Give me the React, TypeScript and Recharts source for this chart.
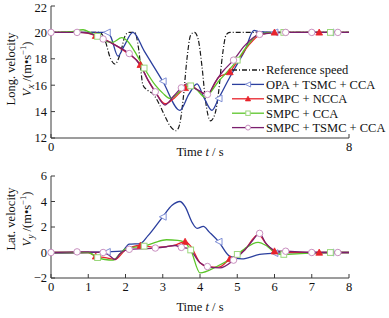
import React from 'react';
import { LineChart, Line, XAxis, YAxis } from 'recharts';

// ---- axis ticks ----
const topXTicks = [0, 8];
const bottomXTicks = [0, 1, 2, 3, 4, 5, 6, 7, 8];
const vxTicks = [12, 14, 16, 18, 20, 22];
const vyTicks = [-2, 0, 2, 4, 6];

// ---- longitudinal velocity Vx (m/s) ----
const refT = [0, 1.3, 1.45, 1.6, 1.72, 1.85, 2.0, 2.1, 2.25, 2.35, 2.47, 2.6, 2.75, 2.9, 3.05, 3.2, 3.36, 3.45, 3.55, 3.65, 3.75, 3.85, 3.95, 4.05, 4.15, 4.28, 4.4, 4.5, 4.6, 4.7, 4.8, 8];
const refVx = [20, 20, 19.4, 18.0, 17.6, 18.3, 19.8, 20, 20, 18.8, 16.0, 15.6, 15.3, 14.6, 13.7, 12.9, 12.55, 13.0, 15.0, 18.0, 19.8, 20, 19.5, 17.5, 14.8, 13.3, 13.8, 15.5, 18.2, 19.8, 20, 20];

const opaVxT = [0, 1.5, 1.6, 1.8, 1.95, 2.2, 2.5, 3.0, 3.46, 3.7, 3.92, 4.1, 4.32, 4.5, 4.8, 5.0, 5.2, 5.45, 5.6, 6.0, 7.5, 8];
const opaVx = [20, 20, 19.7, 18.2, 18.9, 20.0, 18.6, 16.3, 14.1, 15.3, 16.1, 15.1, 14.1, 15.0, 16.6, 17.6, 18.6, 20.15, 20.05, 20, 20, 20];

const nccaVxT = [0, 0.8, 1.2, 1.45, 1.75, 2.07, 2.4, 2.6, 2.8, 3.06, 3.3, 3.6, 3.75, 3.95, 4.2, 4.5, 4.8, 5.0, 5.3, 5.6, 6.0, 7.2, 8];
const nccaVx = [20, 20, 19.75, 19.45, 19.0, 18.4, 17.55, 16.4, 15.5, 14.6, 15.0, 15.8, 16.0, 15.6, 15.3, 16.6, 17.0, 17.8, 19.0, 19.8, 20, 20, 20];

const ccaVxT = [0, 0.5, 0.86, 1.05, 1.25, 1.5, 1.65, 1.9, 2.05, 2.3, 2.5, 2.8, 3.0, 3.2, 3.45, 3.65, 3.75, 3.9, 4.13, 4.5, 5.0, 5.3, 5.6, 6.25, 7.5, 8];
const ccaVx = [20, 20.05, 20.2, 20.0, 19.7, 19.3, 19.25, 19.6, 19.35, 18.3, 17.3, 16.0, 15.4, 15.0, 15.5, 16.0, 15.95, 15.7, 15.1, 16.3, 17.9, 19.1, 19.9, 20, 20, 20];

const tsmcVxT = [0, 0.7, 1.0, 1.2, 1.4, 1.75, 2.1, 2.4, 2.6, 2.8, 3.06, 3.3, 3.5, 3.64, 3.9, 4.2, 4.4, 4.6, 4.9, 5.2, 5.6, 6.3, 7.0, 7.7, 8];
const tsmcVx = [20, 20, 19.95, 19.75, 19.5, 19.0, 18.4, 17.5, 16.4, 15.5, 14.5, 15.2, 15.8, 16.1, 15.7, 15.3, 16.2, 17.0, 17.9, 19.0, 19.85, 20, 20, 20, 20];

// ---- lateral velocity Vy (m/s) ----
const opaVyT = [0, 1.0, 1.5, 1.9, 2.1, 2.4, 2.6, 3.0, 3.25, 3.46, 3.6, 3.8, 3.92, 4.09, 4.25, 4.5, 4.8, 5.12, 5.6, 6.0, 6.5, 7.5, 8];
const opaVy = [-0.05, 0, 0.05, 0.1, 0.65, 0.7, 1.3, 2.8, 3.7, 4.0, 3.6, 2.3, 1.9, 2.05, 1.6, 0.85, -0.3, -0.5, -0.15, -0.05, 0, 0, 0];

const nccaVyT = [0, 1.0, 1.2, 1.45, 1.72, 2.0, 2.4, 2.8, 3.3, 3.6, 3.75, 4.0, 4.2, 4.5, 4.8, 5.2, 5.56, 5.8, 6.0, 6.5, 7.2, 8];
const nccaVy = [0, 0, -0.3, -0.4, -0.55, 0.2, 0.55, 0.4, 0.55, 0.85, 0.5, -0.8, -1.1, -1.15, -0.5, 0.2, 1.4, 0.6, 0.1, 0, 0, 0];

const ccaVyT = [0, 1.0, 1.25, 1.45, 1.67, 1.85, 2.03, 2.5, 2.8, 3.1, 3.4, 3.55, 3.75, 4.0, 4.45, 5.0, 5.2, 5.56, 5.8, 6.06, 6.25, 6.6, 7.5, 8];
const ccaVy = [0, 0, -0.4, -0.55, -0.6, -0.1, 0.35, 0.5, 0.8, 1.0, 0.95, 0.85, 0.2, -1.6, -1.1, -0.15, 0.3, 0.8, 0.5, -0.1, -0.15, -0.1, 0, 0];

const tsmcVyT = [0, 0.7, 1.0, 1.4, 1.55, 1.72, 1.85, 2.1, 2.5, 2.8, 3.1, 3.33, 3.5, 3.7, 4.0, 4.2, 4.54, 4.9, 5.2, 5.4, 5.6, 5.75, 5.88, 6.06, 6.3, 7.0, 7.7, 8];
const tsmcVy = [0, 0.05, 0.05, 0, -0.2, -0.55, -0.1, 0.25, 0.3, 0.35, 0.45, 0.55, 0.4, 0.3, -0.8, -1.1, -1.2, -0.6, 0.2, 0.9, 1.5, 0.8, 0.4, 0.1, 0.1, 0, 0, 0];

// ---- where each series shows its marker (s) ----
const opaMarks = [1.5, 3.0, 4.5, 6.0, 7.5];
const nccaMarks = [1.2, 2.4, 3.6, 4.8, 6.0, 7.2];
const ccaMarks = [1.25, 2.5, 3.75, 5.0, 6.25, 7.5];
const tsmcMarks = [0, 0.7, 1.4, 2.1, 2.8, 3.5, 4.2, 4.9, 5.6, 6.3, 7.0, 7.7];

const FONT = '"Liberation Serif", "Times New Roman", serif';
const FS = 12.5;
const AXIS = '#3a3a3a';

const C = {
  ref: '#1a1a1a',
  opa: '#2b3f9e',
  ncca: '#e8232b',
  cca: '#5cc62a',
  tsmc: '#7b1f6e',
};

type Shape = 'tri-left' | 'tri-up' | 'square' | 'circle';

const toPts = (t: number[], v: number[]) => t.map((x, i) => ({ t: x, v: v[i] }));

const Marker = ({ shape, x, y, small }: { shape: Shape; x: number; y: number; small?: boolean }) => {
  const s = small ? 2.6 : 3.4;
  if (shape === 'tri-left')
    return <polygon points={`${x - s},${y} ${x + s},${y - s} ${x + s},${y + s}`} fill="#fff" stroke="#8090d6" strokeWidth={1} />;
  if (shape === 'tri-up')
    return <polygon points={`${x},${y - s} ${x + s},${y + s * 0.8} ${x - s},${y + s * 0.8}`} fill={C.ncca} stroke={C.ncca} strokeWidth={0.8} />;
  if (shape === 'square')
    return <rect x={x - s * 0.85} y={y - s * 0.85} width={s * 1.7} height={s * 1.7} fill="#fff" stroke="#9ad77a" strokeWidth={1} />;
  return <circle cx={x} cy={y} r={s * 0.95} fill="#fff" stroke="#c98fc0" strokeWidth={1} />;
};

const markerDot = (marks: number[], shape: Shape) => (p: any) => {
  const key = `d-${shape}-${p.index}`;
  if (p.cx == null || p.cy == null || !marks.some((m) => Math.abs(m - p.payload.t) < 0.02)) return <g key={key} />;
  return (
    <g key={key}>
      <Marker shape={shape} x={p.cx} y={p.cy} />
    </g>
  );
};

const legendItems = [
  { label: 'Reference speed', color: C.ref, dash: '5 2 1 2', shape: null as Shape | null },
  { label: 'OPA + TSMC + CCA', color: C.opa, dash: undefined, shape: 'tri-left' as Shape },
  { label: 'SMPC + NCCA', color: C.ncca, dash: undefined, shape: 'tri-up' as Shape },
  { label: 'SMPC + CCA', color: C.cca, dash: undefined, shape: 'square' as Shape },
  { label: 'SMPC + TSMC + CCA', color: C.tsmc, dash: undefined, shape: 'circle' as Shape },
];

// legend drawn over the upper panel
const LegendBox = () => (
  <svg width={157} height={74} style={{ position: 'absolute', left: 232, top: 63, overflow: 'visible' }}>
    {legendItems.map((it, i) => {
      const y = 7 + i * 14.4;
      return (
        <g key={it.label}>
          <line x1={0} x2={32} y1={y} y2={y} stroke={it.color} strokeWidth={1.3} strokeDasharray={it.dash} />
          {it.shape && <Marker shape={it.shape} x={16} y={y} small />}
          <text x={34} y={y + 4.3} fontSize={FS} fill="#111" fontFamily={FONT}>
            {it.label}
          </text>
        </g>
      );
    })}
  </svg>
);

const TimeLabel = (dy: number) => (props: any) => {
  const vb = props.viewBox || {};
  const cx = vb.x + vb.width / 2;
  const y = vb.y + dy;
  return (
    <text x={cx} y={y} textAnchor="middle" fontSize={FS} fill="#111" fontFamily={FONT}>
      Time <tspan fontStyle="italic">t</tspan> / s
    </text>
  );
};

const VelLabel = (name: string, sub: string, yShift: number) => (props: any) => {
  const vb = props.viewBox || {};
  const cy = vb.y + vb.height / 2 + yShift;
  return (
    <g fontFamily={FONT} fill="#111" fontSize={FS}>
      <text transform={`translate(15, ${cy}) rotate(-90)`} textAnchor="middle">
        {name}
      </text>
      <text transform={`translate(31, ${cy}) rotate(-90)`} textAnchor="middle">
        <tspan fontStyle="italic">V</tspan>
        <tspan fontStyle="italic" fontSize={9.5} dy={3}>{sub}</tspan>
        <tspan dy={-3}> /(m•s</tspan>
        <tspan fontSize={8.5} dy={-5}>−1</tspan>
        <tspan dy={5}>)</tspan>
      </text>
    </g>
  );
};

const tickStyle = { fill: '#111', fontSize: FS, fontFamily: FONT };
const minus = (v: number) => String(v).replace('-', '−');

export default function App() {
  return (
    <div style={{ position: 'absolute', left: 0, top: 0, width: 389, height: 318, background: '#fff', fontFamily: FONT }}>
      <LineChart width={389} height={160} margin={{ top: 6, right: 40, bottom: 0, left: 0 }}>
        <XAxis
          type="number"
          dataKey="t"
          domain={[0, 8]}
          ticks={topXTicks}
          height={22}
          stroke={AXIS}
          tickSize={-4}
          tickMargin={8}
          tick={tickStyle}
          label={{ content: TimeLabel(18) } as any}
        />
        <YAxis
          type="number"
          domain={[12, 22]}
          ticks={vxTicks}
          width={51}
          stroke={AXIS}
          tickSize={-4}
          tickMargin={8}
          tick={tickStyle}
          label={{ content: VelLabel('Long. velocity', 'x', -3) } as any}
        />
        <Line data={toPts(refT, refVx)} dataKey="v" name="Reference speed" type="monotone" stroke={C.ref} strokeWidth={1.2} strokeDasharray="5 2 1 2" dot={false} isAnimationActive={false} />
        <Line data={toPts(opaVxT, opaVx)} dataKey="v" name="OPA + TSMC + CCA" type="monotone" stroke={C.opa} strokeWidth={1.3} dot={markerDot(opaMarks, 'tri-left')} isAnimationActive={false} />
        <Line data={toPts(nccaVxT, nccaVx)} dataKey="v" name="SMPC + NCCA" type="monotone" stroke={C.ncca} strokeWidth={1.3} dot={markerDot(nccaMarks, 'tri-up')} isAnimationActive={false} />
        <Line data={toPts(ccaVxT, ccaVx)} dataKey="v" name="SMPC + CCA" type="monotone" stroke={C.cca} strokeWidth={1.3} dot={markerDot(ccaMarks, 'square')} isAnimationActive={false} />
        <Line data={toPts(tsmcVxT, tsmcVx)} dataKey="v" name="SMPC + TSMC + CCA" type="monotone" stroke={C.tsmc} strokeWidth={1.3} dot={markerDot(tsmcMarks, 'circle')} isAnimationActive={false} />
      </LineChart>

      <LineChart width={389} height={158} margin={{ top: 16, right: 40, bottom: 0, left: 0 }}>
        <XAxis
          type="number"
          dataKey="t"
          domain={[0, 8]}
          ticks={bottomXTicks}
          height={40}
          stroke={AXIS}
          tickSize={-4}
          tickMargin={8}
          tick={tickStyle}
          label={{ content: TimeLabel(33) } as any}
        />
        <YAxis
          type="number"
          domain={[-2, 6]}
          ticks={vyTicks}
          width={51}
          stroke={AXIS}
          tickSize={-4}
          tickMargin={8}
          tick={tickStyle}
          tickFormatter={minus}
          label={{ content: VelLabel('Lat. velocity', 'y', -8) } as any}
        />
        <Line data={toPts(opaVyT, opaVy)} dataKey="v" type="monotone" stroke={C.opa} strokeWidth={1.3} dot={markerDot(opaMarks, 'tri-left')} isAnimationActive={false} />
        <Line data={toPts(nccaVyT, nccaVy)} dataKey="v" type="monotone" stroke={C.ncca} strokeWidth={1.3} dot={markerDot(nccaMarks, 'tri-up')} isAnimationActive={false} />
        <Line data={toPts(ccaVyT, ccaVy)} dataKey="v" type="monotone" stroke={C.cca} strokeWidth={1.3} dot={markerDot(ccaMarks, 'square')} isAnimationActive={false} />
        <Line data={toPts(tsmcVyT, tsmcVy)} dataKey="v" type="monotone" stroke={C.tsmc} strokeWidth={1.3} dot={markerDot(tsmcMarks, 'circle')} isAnimationActive={false} />
      </LineChart>

      <LegendBox />
    </div>
  );
}
